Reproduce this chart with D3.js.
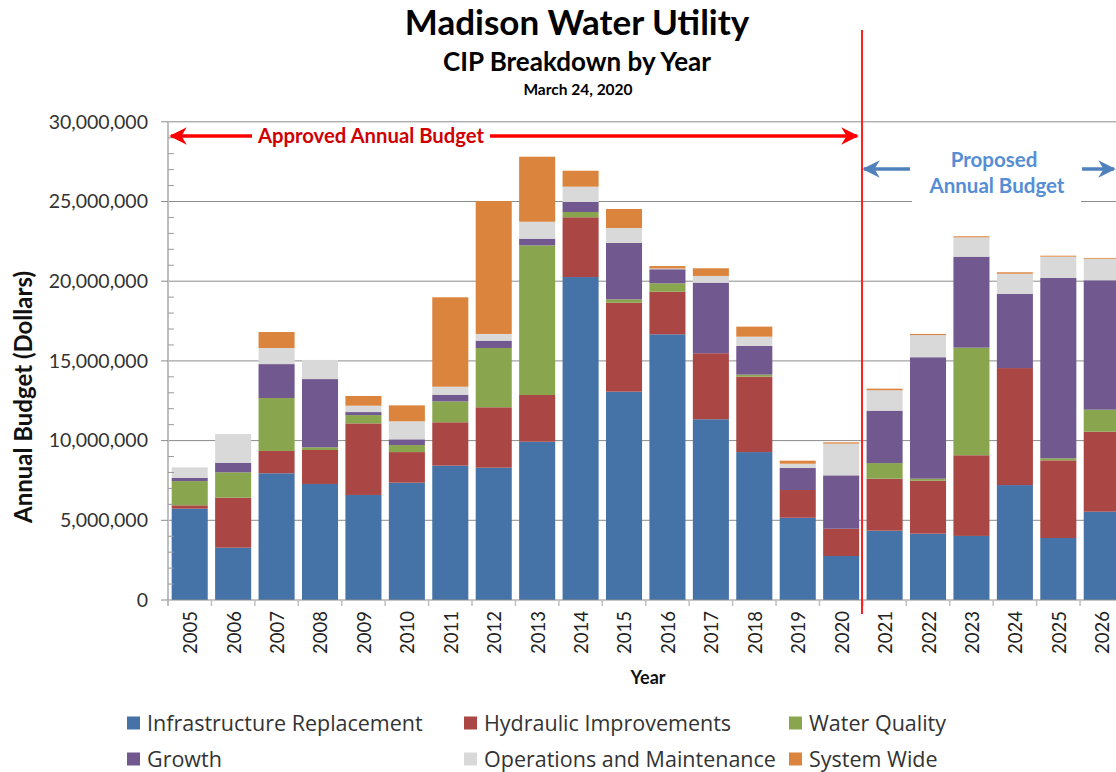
<!DOCTYPE html>
<html>
<head>
<meta charset="utf-8">
<script src="https://cdn.jsdelivr.net/npm/d3@7"></script>
<style>
  html, body { margin: 0; padding: 0; background: #fff; overflow: hidden; }
  svg { display: block; font-family: Lato, "Open Sans", sans-serif; }
</style>
</head>
<body>
<svg id="chart" width="1116" height="772"></svg>
<script>
// ---- Data (values in millions of dollars) ----
const years = [2005, 2006, 2007, 2008, 2009, 2010, 2011, 2012, 2013, 2014, 2015,
               2016, 2017, 2018, 2019, 2020, 2021, 2022, 2023, 2024, 2025, 2026];
const infrastructureReplacement = [5.73, 3.28, 7.95, 7.28, 6.59, 7.36, 8.43, 8.30, 9.93, 20.26, 13.07,
                                   16.67, 11.34, 9.28, 5.16, 2.76, 4.35, 4.16, 4.02, 7.21, 3.89, 5.54];
const hydraulicImprovements = [0.21, 3.14, 1.40, 2.13, 4.49, 1.92, 2.72, 3.79, 2.93, 3.75, 5.58,
                               2.67, 4.14, 4.73, 1.74, 1.71, 3.26, 3.32, 5.06, 7.34, 4.87, 5.02];
const waterQuality = [1.52, 1.59, 3.32, 0.17, 0.52, 0.44, 1.31, 3.72, 9.39, 0.33, 0.21,
                      0.53, 0.00, 0.13, 0.00, 0.00, 0.98, 0.13, 6.75, 0.00, 0.13, 1.38];
const growth = [0.21, 0.60, 2.13, 4.28, 0.19, 0.36, 0.42, 0.46, 0.42, 0.63, 3.54,
                0.88, 4.43, 1.80, 1.38, 3.35, 3.29, 7.62, 5.71, 4.65, 11.31, 8.12];
const operationsMaintenance = [0.65, 1.80, 1.01, 1.20, 0.40, 1.13, 0.50, 0.42, 1.06, 0.96, 0.94,
                               0.05, 0.42, 0.58, 0.27, 1.99, 1.28, 1.39, 1.21, 1.27, 1.34, 1.35];
const systemWide = [0.00, 0.00, 1.00, 0.00, 0.61, 1.00, 5.61, 8.34, 4.08, 1.00, 1.19,
                    0.15, 0.48, 0.63, 0.19, 0.08, 0.10, 0.07, 0.07, 0.09, 0.06, 0.05];
const seriesNames = ["Infrastructure Replacement", "Hydraulic Improvements", "Water Quality",
                     "Growth", "Operations and Maintenance", "System Wide"];
const seriesColors = ["#4572a7", "#aa4643", "#89a54e", "#71588f", "#d9d9d9", "#db843d"];
const yTickValues = [0, 5, 10, 15, 20, 25, 30];
const UNIT = 1e6;

const seriesValues = [infrastructureReplacement, hydraulicImprovements, waterQuality,
                      growth, operationsMaintenance, systemWide];
const keys = seriesNames;
const table = years.map((yr, i) => {
  const row = { year: yr };
  keys.forEach((k, j) => row[k] = seriesValues[j][i]);
  return row;
});

const svg = d3.select("#chart");
const plotLeft = 168, plotBottom = 600, plotTop = 121.8;
const step = 43.43;
const plotRight = 1116;
const x = d3.scaleBand().domain(years).range([plotLeft, plotLeft + years.length * step])
  .paddingInner(0.17).paddingOuter(0.085);
const y = d3.scaleLinear().domain([0, 30]).range([plotBottom, plotTop]);

// gridlines
svg.append("g").selectAll("line").data(yTickValues.filter(d => d > 0)).join("line")
  .attr("x1", plotLeft).attr("x2", plotRight)
  .attr("y1", d => y(d)).attr("y2", d => y(d))
  .attr("stroke", "#8c8c8c").attr("stroke-width", 1);

// bars
const stack = d3.stack().keys(keys)(table);
svg.append("g").selectAll("g").data(stack).join("g")
  .attr("fill", (d, i) => seriesColors[i])
  .selectAll("rect").data(d => d).join("rect")
  .attr("x", d => x(d.data.year))
  .attr("width", x.bandwidth())
  .attr("y", d => y(d[1]))
  .attr("height", d => Math.max(0, y(d[0]) - y(d[1])));

// y axis
const yAxisG = svg.append("g");
yAxisG.append("line").attr("x1", plotLeft).attr("x2", plotLeft).attr("y1", y(30)).attr("y2", plotBottom + 6)
  .attr("stroke", "#bfbfbf").attr("stroke-width", 2);
yAxisG.selectAll("line.minor").data(d3.range(0, 31).filter(d => d % 5 !== 0)).join("line")
  .attr("class", "minor")
  .attr("x1", plotLeft).attr("x2", plotLeft + 6).attr("y1", d => y(d)).attr("y2", d => y(d))
  .attr("stroke", "#9a9a9a");
yAxisG.selectAll("line.major").data(yTickValues).join("line")
  .attr("class", "major")
  .attr("x1", plotLeft - 7).attr("x2", plotLeft).attr("y1", d => y(d)).attr("y2", d => y(d))
  .attr("stroke", "#8c8c8c");
yAxisG.selectAll("text").data(yTickValues).join("text")
  .attr("x", 148).attr("y", d => y(d)).attr("dy", "0.35em")
  .attr("text-anchor", "end").attr("font-size", 19.5).attr("fill", "#333")
  .text(d => d3.format(",")(d * UNIT));

// x axis
const xAxisG = svg.append("g");
xAxisG.append("line").attr("x1", plotLeft).attr("x2", plotRight).attr("y1", plotBottom).attr("y2", plotBottom)
  .attr("stroke", "#8c8c8c");
xAxisG.selectAll("line.tick").data(d3.range(0, years.length + 1)).join("line")
  .attr("class", "tick")
  .attr("x1", d => plotLeft + d * step).attr("x2", d => plotLeft + d * step)
  .attr("y1", plotBottom).attr("y2", plotBottom + 6).attr("stroke", "#bfbfbf").attr("stroke-width", 1.5);
xAxisG.selectAll("text").data(years).join("text")
  .attr("transform", d => `translate(${x(d) + x.bandwidth() / 2 + 1},${plotBottom + 11}) rotate(-90)`)
  .attr("text-anchor", "end").attr("dy", "0.35em")
  .attr("font-size", 18.5).attr("fill", "#222").text(d => d);

// axis titles
svg.append("text").attr("x", 648).attr("y", 684).attr("text-anchor", "middle")
  .attr("font-size", 18).attr("font-weight", "bold").attr("fill", "#111").text("Year");
svg.append("text").attr("transform", "translate(32,397) rotate(-90)")
  .attr("text-anchor", "middle").attr("font-size", 24).attr("font-weight", "bold")
  .attr("fill", "#111").text("Annual Budget (Dollars)");

// titles
svg.append("text").attr("x", 577).attr("y", 35).attr("text-anchor", "middle")
  .attr("font-size", 35).attr("font-weight", "bold").attr("fill", "#000").text("Madison Water Utility");
svg.append("text").attr("x", 577).attr("y", 71).attr("text-anchor", "middle")
  .attr("font-size", 26).attr("font-weight", "bold").attr("fill", "#000").text("CIP Breakdown by Year");
svg.append("text").attr("x", 578).attr("y", 95).attr("text-anchor", "middle")
  .attr("font-size", 15.5).attr("font-weight", "bold").attr("fill", "#000").text("March 24, 2020");

// arrow markers
const defs = svg.append("defs");
function marker(id, color) {
  defs.append("marker").attr("id", id).attr("viewBox", "0 0 10 10")
    .attr("refX", 9).attr("refY", 5).attr("markerWidth", 5).attr("markerHeight", 5)
    .attr("orient", "auto-start-reverse").attr("markerUnits", "strokeWidth")
    .append("path").attr("d", "M0,0 L10,5 L0,10 L3,5 Z").attr("fill", color);
}
marker("redArrow", "#ff0000");
marker("blueArrow", "#4f81bd");

// approved annotation
svg.append("line").attr("x1", 171).attr("x2", 857).attr("y1", 136).attr("y2", 136)
  .attr("stroke", "#ff0000").attr("stroke-width", 3.5)
  .attr("marker-start", "url(#redArrow)").attr("marker-end", "url(#redArrow)");
svg.append("rect").attr("x", 252).attr("y", 124).attr("width", 238).attr("height", 24).attr("fill", "#fff");
svg.append("text").attr("x", 371).attr("y", 136).attr("dy", "0.35em").attr("text-anchor", "middle")
  .attr("font-size", 20.3).attr("font-weight", "bold").attr("fill", "#d00000").text("Approved Annual Budget");

// proposed annotation
svg.append("rect").attr("x", 912).attr("y", 140).attr("width", 169).attr("height", 64).attr("fill", "#fff");
svg.append("line").attr("x1", 910).attr("x2", 864).attr("y1", 169).attr("y2", 169)
  .attr("stroke", "#4f81bd").attr("stroke-width", 3.5).attr("marker-end", "url(#blueArrow)");
svg.append("line").attr("x1", 1082).attr("x2", 1114).attr("y1", 169).attr("y2", 169)
  .attr("stroke", "#4f81bd").attr("stroke-width", 3.5).attr("marker-end", "url(#blueArrow)");
svg.append("text").attr("x", 994).attr("y", 160).attr("dy", "0.35em").attr("text-anchor", "middle")
  .attr("font-size", 20.5).attr("font-weight", "bold").attr("fill", "#558ed5").text("Proposed");
svg.append("text").attr("x", 997).attr("y", 186).attr("dy", "0.35em").attr("text-anchor", "middle")
  .attr("font-size", 20.5).attr("font-weight", "bold").attr("fill", "#558ed5").text("Annual Budget");

// divider
svg.append("line").attr("x1", 862).attr("x2", 862).attr("y1", 30).attr("y2", 614)
  .attr("stroke", "#ff2020").attr("stroke-width", 2);

// legend
const legendPos = [[127, 723], [464, 723], [789, 723], [127, 759], [464, 759], [789, 759]];
const lg = svg.append("g").selectAll("g").data(seriesNames).join("g")
  .attr("transform", (d, i) => `translate(${legendPos[i][0]},${legendPos[i][1]})`);
lg.append("rect").attr("x", 0).attr("y", -6.5).attr("width", 13).attr("height", 13)
  .attr("fill", (d, i) => seriesColors[i]);
lg.append("text").attr("x", 20).attr("y", 0).attr("dy", "0.35em")
  .attr("font-family", "'Open Sans', sans-serif")
  .attr("font-size", 21.5).attr("fill", "#333").text(d => d);
</script>
</body>
</html>
